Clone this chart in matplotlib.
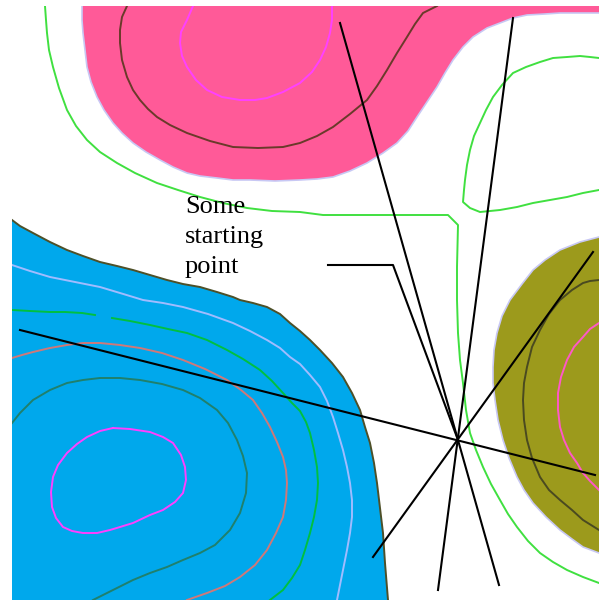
import matplotlib
matplotlib.use("Agg")
import matplotlib.pyplot as plt

# filled regions (x, y in picture units, y grows downward)
pink_region = [(82, 6), (82, 20), (83, 33), (85, 50), (87, 67), (91, 82), (97, 97), (104, 110),
               (113, 123), (122, 133), (133, 143), (146, 152), (160, 160), (173, 167), (187, 173),
               (200, 176), (217, 178), (233, 180), (250, 180), (275, 181), (300, 180), (317, 179),
               (333, 177), (350, 171), (367, 163), (383, 153), (397, 143), (408, 131), (417, 117),
               (427, 102), (437, 87), (445, 73), (453, 60), (463, 47), (473, 37), (487, 28),
               (500, 23), (513, 18), (527, 15), (545, 14), (560, 13), (580, 13), (599, 13)]
blue_region = [(12, 220), (20, 226), (33, 233), (50, 242), (67, 250), (83, 256), (100, 262),
               (117, 266), (133, 270), (150, 275), (167, 280), (183, 284), (200, 287), (217, 292),
               (233, 297), (240, 300), (253, 303), (267, 307), (280, 314), (290, 323), (300, 331),
               (310, 340), (320, 350), (332, 363), (343, 377), (352, 393), (360, 410), (365, 427),
               (370, 443), (374, 463), (377, 483), (380, 508), (383, 533), (385, 563), (388, 600)]
olive_region = [(599, 237), (580, 242), (560, 250), (545, 260), (533, 270), (522, 284), (510, 300),
                (502, 316), (497, 333), (494, 350), (493, 367), (493, 383), (495, 400), (498, 420),
                (503, 440), (509, 458), (517, 477), (524, 490), (533, 503), (546, 517), (560, 530),
                (572, 539), (583, 547), (599, 553)]

# contour lines
brown_line = [(127, 6), (122, 17), (120, 30), (120, 43), (122, 60), (127, 77), (133, 90), (140, 100),
              (148, 109), (157, 117), (170, 125), (187, 133), (210, 141), (233, 147), (258, 148),
              (283, 147), (300, 143), (317, 136), (333, 127), (350, 114), (367, 100), (377, 86),
              (387, 70), (397, 53), (407, 37), (415, 24), (423, 13), (437, 6)]
magenta_top = [(193, 6), (187, 20), (181, 32), (180, 43), (182, 56), (187, 67), (196, 80), (207, 90),
               (222, 97), (240, 100), (255, 100), (267, 98), (283, 92), (300, 83), (312, 72),
               (320, 60), (326, 47), (330, 33), (332, 20), (332, 6)]
green_outer = [(45, 6), (46, 20), (47, 33), (49, 50), (53, 67), (59, 88), (67, 110), (76, 126),
               (87, 140), (100, 152), (117, 163), (135, 173), (157, 183), (178, 190), (200, 197),
               (223, 203), (247, 208), (272, 211), (300, 212), (323, 215), (448, 215), (458, 225),
               (457, 267), (457, 300), (458, 333), (460, 360), (463, 383), (466, 410), (470, 433),
               (476, 450), (483, 467), (491, 484), (500, 500), (508, 514), (517, 527), (528, 541),
               (540, 553), (553, 562), (567, 570), (583, 577), (599, 583)]
green_loop = [(599, 190), (583, 193), (567, 197), (550, 200), (533, 203), (517, 207), (500, 210),
              (480, 212), (470, 208), (463, 202), (464, 190), (465, 180), (467, 165), (470, 150),
              (474, 136), (480, 123), (486, 110), (493, 97), (502, 85), (513, 73), (526, 67),
              (540, 62), (553, 58), (567, 57), (580, 56), (590, 57), (599, 58)]
lavender_line = [(12, 265), (30, 271), (50, 277), (75, 282), (100, 287), (120, 293), (143, 300),
                 (163, 303), (183, 307), (208, 314), (233, 323), (250, 331), (267, 340), (280, 348),
                 (290, 357), (300, 364), (310, 375), (320, 387), (327, 401), (333, 417), (338, 433),
                 (343, 450), (347, 467), (350, 483), (352, 500), (352, 517), (350, 533), (347, 550),
                 (342, 575), (337, 600)]
green_inner_a = [(12, 310), (30, 311), (50, 312), (65, 312), (82, 313), (95, 315)]
green_inner_b = [(112, 318), (130, 321), (150, 325), (168, 329), (187, 333), (207, 340), (227, 350),
                 (243, 359), (260, 370), (272, 381), (283, 393), (292, 403), (300, 411), (306, 422),
                 (310, 433), (314, 450), (317, 467), (318, 483), (317, 500), (314, 517), (310, 533),
                 (305, 550), (300, 565), (292, 578), (283, 590), (270, 600)]
salmon_line = [(12, 358), (22, 355), (33, 352), (50, 348), (67, 345), (83, 343), (100, 343),
               (120, 345), (140, 348), (162, 353), (183, 360), (205, 369), (227, 380), (241, 390),
               (253, 400), (262, 413), (270, 427), (277, 442), (283, 457), (286, 470), (287, 483),
               (286, 500), (283, 517), (276, 533), (267, 550), (255, 565), (240, 577), (225, 586),
               (207, 593), (187, 600)]
teal_line = [(12, 423), (20, 413), (33, 400), (50, 390), (67, 383), (83, 380), (100, 378),
             (120, 378), (140, 380), (162, 384), (183, 390), (200, 398), (217, 410), (228, 423),
             (237, 440), (243, 456), (247, 473), (246, 493), (240, 513), (230, 530), (215, 545),
             (200, 553), (183, 560), (167, 567), (150, 573), (133, 580), (113, 590), (93, 600)]
magenta_blue = [(113, 428), (130, 429), (150, 432), (163, 437), (173, 443), (181, 455), (185, 467),
                (186, 480), (183, 493), (175, 502), (163, 510), (150, 515), (133, 523), (120, 527),
                (110, 530), (97, 533), (83, 533), (72, 531), (63, 527), (56, 518), (52, 507),
                (51, 492), (53, 477), (58, 465), (67, 453), (77, 444), (87, 437), (100, 431),
                (113, 428)]
dark_olive_line = [(599, 280), (590, 281), (583, 283), (572, 290), (560, 300), (549, 314), (540, 330),
                   (532, 347), (527, 367), (524, 383), (523, 400), (524, 420), (527, 440), (532, 458),
                   (540, 477), (549, 490), (560, 500), (572, 510), (583, 520), (599, 530)]
magenta_olive = [(599, 323), (590, 329), (583, 337), (574, 347), (567, 360), (561, 377), (558, 393),
                 (558, 410), (560, 427), (564, 440), (570, 453), (577, 463), (583, 473), (590, 481),
                 (599, 490)]

# search directions through the point, and the label leader
black_lines = [[(20, 330), (595, 475)],
               [(340, 23), (499, 585)],
               [(513, 18), (438, 590)],
               [(593, 252), (373, 557)]]
leader = [(328, 265), (393, 265), (458, 440)]
label_lines = ["Some", "starting", "point"]
label_baselines = [213, 243, 273]


def xs(pts):
    return [p[0] for p in pts]


def ys(pts):
    return [p[1] for p in pts]


fig = plt.figure(figsize=(5.99, 6.0), dpi=100)
ax = fig.add_axes([12 / 599, 0, 587 / 599, 594 / 600])
ax.set_xlim(12, 599)
ax.set_ylim(600, 6)
ax.axis("off")

# fills
ax.fill(xs(pink_region) + [599, 82], ys(pink_region) + [6, 6], color="#ff5a98", lw=0)
ax.fill(xs(blue_region) + [12], ys(blue_region) + [600], color="#00a8ec", lw=0)
ax.fill(xs(olive_region), ys(olive_region), color="#9c9a1c", lw=0)

# region edges
ax.plot(xs(pink_region), ys(pink_region), color="#c8c8f4", lw=1.2)
ax.plot(xs(olive_region), ys(olive_region), color="#c8c8f4", lw=1.2)
ax.plot(xs(blue_region), ys(blue_region), color="#4e5028", lw=1.4)

lw = 1.4
ax.plot(xs(brown_line), ys(brown_line), color="#6a3a2a", lw=lw)
ax.plot(xs(magenta_top), ys(magenta_top), color="#ff40ff", lw=lw)
ax.plot(xs(green_outer), ys(green_outer), color="#40e040", lw=lw)
ax.plot(xs(green_loop), ys(green_loop), color="#40e040", lw=lw)
ax.plot(xs(lavender_line), ys(lavender_line), color="#a0bcff", lw=lw)
ax.plot(xs(green_inner_a), ys(green_inner_a), color="#00c040", lw=lw)
ax.plot(xs(green_inner_b), ys(green_inner_b), color="#00c040", lw=lw)
ax.plot(xs(salmon_line), ys(salmon_line), color="#d07878", lw=lw)
ax.plot(xs(teal_line), ys(teal_line), color="#20806c", lw=lw)
ax.plot(xs(magenta_blue), ys(magenta_blue), color="#ff40ff", lw=lw)
ax.plot(xs(dark_olive_line), ys(dark_olive_line), color="#4a4a20", lw=lw)
ax.plot(xs(magenta_olive), ys(magenta_olive), color="#ff58c8", lw=lw)

for seg in black_lines:
    ax.plot(xs(seg), ys(seg), color="black", lw=1.5)
ax.plot(xs(leader), ys(leader), color="black", lw=1.5)

for word, base in zip(label_lines, label_baselines):
    ax.text(185, base, word, family="Liberation Serif", fontsize=19,
            va="baseline", ha="left", color="black")

fig.savefig("out.png", dpi=100, facecolor="white")
